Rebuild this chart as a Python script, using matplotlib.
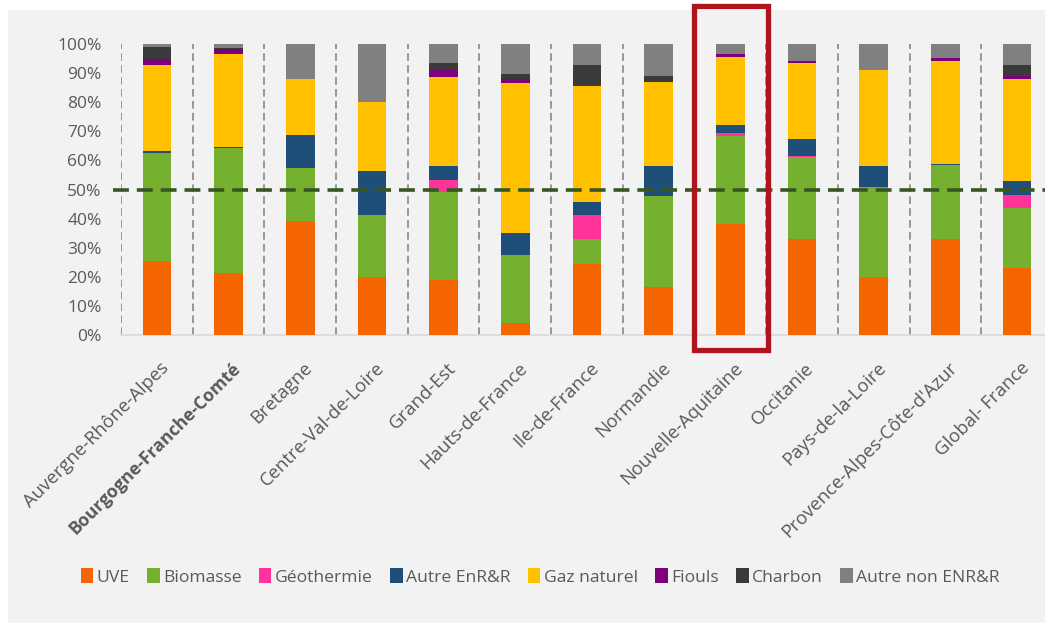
import matplotlib
matplotlib.use("Agg")
import matplotlib.pyplot as plt
import matplotlib.transforms as mtransforms
from matplotlib.patches import Rectangle, Patch
import numpy as np

regions = ["Auvergne-Rhône-Alpes", "Bourgogne-Franche-Comté", "Bretagne",
           "Centre-Val-de-Loire", "Grand-Est", "Hauts-de-France", "Ile-de-France",
           "Normandie", "Nouvelle-Aquitaine", "Occitanie", "Pays-de-la-Loire",
           "Provence-Alpes-Côte-d'Azur", "Global- France"]

# Share of each energy source in the heat mix (%)
uve        = [25.4, 21.2, 39.3, 19.8, 18.9,  4.2, 24.4, 16.6, 38.0, 33.0, 20.0, 33.1, 23.0]
biomasse   = [37.3, 43.1, 18.0, 21.4, 30.4, 23.2,  8.5, 31.3, 30.4, 28.2, 30.7, 25.2, 20.5]
geothermie = [ 0.0,  0.0,  0.0,  0.0,  4.0,  0.0,  8.3,  0.0,  1.1,  0.3,  0.0,  0.0,  4.6]
autre_enrr = [ 0.5,  0.3, 11.3, 15.0,  4.7,  7.5,  4.6, 10.1,  2.6,  5.7,  7.3,  0.3,  4.8]
gaz        = [29.5, 31.8, 19.4, 23.8, 30.8, 51.8, 39.8, 28.9, 23.5, 26.2, 33.1, 35.4, 35.0]
fiouls     = [ 2.1,  2.0,  0.0,  0.0,  2.3,  1.2,  0.0,  0.0,  1.0,  0.6,  0.0,  1.1,  1.2]
charbon    = [ 4.1,  0.3,  0.0,  0.0,  2.3,  1.9,  7.3,  2.2,  0.0,  0.0,  0.0,  0.0,  3.7]
autre_non  = [ 1.1,  1.3, 12.0, 20.0,  6.6, 10.2,  7.1, 10.9,  3.4,  6.0,  8.9,  4.9,  7.2]

series = [
    ("UVE", uve, "#F46500"),
    ("Biomasse", biomasse, "#76B02F"),
    ("Géothermie", geothermie, "#FF3399"),
    ("Autre EnR&R", autre_enrr, "#1F4E79"),
    ("Gaz naturel", gaz, "#FFC000"),
    ("Fiouls", fiouls, "#7F007F"),
    ("Charbon", charbon, "#3A3A3A"),
    ("Autre non ENR&R", autre_non, "#808080"),
]

threshold = 50
highlight = "Nouvelle-Aquitaine"
bold_label = "Bourgogne-Franche-Comté"

text_color = "#595959"
plt.rcParams["font.family"] = ["Open Sans", "DejaVu Sans"]

W, H = 1045, 623
fig = plt.figure(figsize=(W / 100, H / 100), dpi=100, facecolor="white")

# light grey panel behind the chart
fig.patches.append(Rectangle((8 / W, 0), 1, 1 - 10 / H, transform=fig.transFigure,
                             facecolor="#F2F2F2", edgecolor="none", zorder=-10))

ax = fig.add_axes([121 / W, (H - 335) / H, 932 / W, 291 / H])
ax.set_facecolor("none")

x = np.arange(len(regions))
bottom = np.zeros(len(regions))
for name, vals, col in series:
    v = np.array(vals)
    ax.bar(x, v, width=0.40, bottom=bottom, color=col, label=name, zorder=3,
           edgecolor="none")
    bottom += v

ax.set_xlim(-0.5, len(regions) - 0.5)
ax.set_ylim(0, 100)
ax.set_yticks(np.arange(0, 101, 10))
ax.set_yticklabels([f"{t}%" for t in range(0, 101, 10)], fontsize=12.5, color=text_color)
ax.tick_params(axis="y", length=0, pad=14)

ax.set_xticks(x)
ax.set_xticklabels(regions, rotation=45, ha="right", rotation_mode="anchor",
                   fontsize=13.3, color=text_color)
ax.tick_params(axis="x", length=0, pad=8)
shift = mtransforms.ScaledTranslation(0.03, -0.13, fig.dpi_scale_trans)
for lbl in ax.get_xticklabels():
    lbl.set_transform(lbl.get_transform() + shift)
    if lbl.get_text() == bold_label:
        lbl.set_fontweight("bold")
        lbl.set_fontsize(12.7)

for s in ["top", "right", "left"]:
    ax.spines[s].set_visible(False)
ax.spines["bottom"].set_color("#D9D9D9")
ax.spines["bottom"].set_linewidth(1.2)

# dashed separators between regions
for b in np.arange(-0.5, len(regions) - 1, 1.0):
    ax.plot([b, b], [0, 100], color="#7F7F7F", lw=1.1,
            linestyle=(0, (5.0, 2.8)), zorder=2)

# 50 % threshold
ax.plot([-0.61, len(regions) - 0.5], [threshold, threshold], color="#375623", lw=2.6,
        linestyle=(0, (4.4, 2.2)), zorder=5, clip_on=False)

# frame around the highlighted region
i = regions.index(highlight)
trans = mtransforms.blended_transform_factory(ax.transData, ax.transAxes)
ax.add_patch(Rectangle((i - 0.505, -0.053), 1.03, 1.182, transform=trans,
                       fill=False, edgecolor="#B0121E", lw=3.8, zorder=6,
                       clip_on=False))

handles = [Patch(facecolor=c, edgecolor="none") for _, _, c in series]
fig.legend(handles, [n for n, _, _ in series], loc="center", ncol=8,
           bbox_to_anchor=(0.517, 0.074), frameon=False, fontsize=12.6,
           handlelength=0.7, handleheight=0.9, handletextpad=0.2,
           columnspacing=1.0, labelcolor=text_color)

fig.savefig("out.png", dpi=100, facecolor="white")
